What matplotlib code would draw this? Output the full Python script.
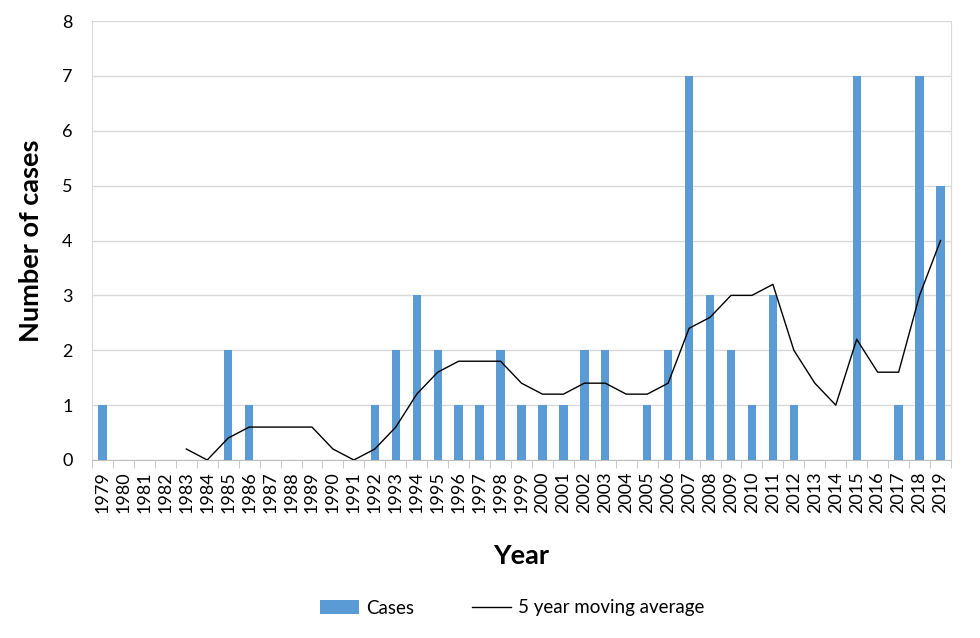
import numpy as np
import matplotlib.pyplot as plt

plt.rcParams['font.family'] = ['Lato', 'DejaVu Sans']

years = list(range(1979, 2020))
cases = [1, 0, 0, 0, 0, 0, 2, 1, 0, 0, 0, 0, 0, 1, 2, 3, 2, 1, 1, 2, 1,
         1, 1, 2, 2, 0, 1, 2, 7, 3, 2, 1, 3, 1, 0, 0, 7, 0, 1, 7, 5]
# 5 year moving average, shown from 1983 onwards
ma_years = list(range(1983, 2020))
moving_avg = [0.2, 0, 0.4, 0.6, 0.6, 0.6, 0.6, 0.2, 0, 0.2, 0.6, 1.2, 1.6, 1.8,
              1.8, 1.8, 1.4, 1.2, 1.2, 1.4, 1.4, 1.2, 1.2, 1.4, 2.4, 2.6, 3.0,
              3.0, 3.2, 2.0, 1.4, 1.0, 2.2, 1.6, 1.6, 3.0, 4.0]

fig = plt.figure(figsize=(9.8, 6.38), dpi=100)
ax = fig.add_axes([92 / 980, 1 - 460 / 638, (951 - 92) / 980, (460 - 21) / 638])

x = np.arange(len(years))
barras = ax.bar(x, cases, width=0.4, color='#5B9BD5', label='Cases', zorder=3)
ma_x = [years.index(y) for y in ma_years]
linea, = ax.plot(ma_x, moving_avg, color='black', linewidth=1,
                 label='5 year moving average', zorder=4)

ax.set_xlim(-0.5, len(years) - 0.5)
ax.set_ylim(0, 8)
ax.set_yticks(range(0, 9))
ax.set_xticks(x)
ax.set_xticklabels([str(y) for y in years], rotation=90)
ax.set_xticks(np.arange(-0.5, len(years)), minor=True)
ax.tick_params(axis='x', which='major', length=0, pad=8, labelsize=13)
ax.tick_params(axis='x', which='minor', length=6, color='#BFBFBF')
ax.tick_params(axis='y', length=0, pad=14, labelsize=13)

ax.grid(axis='y', color='#D9D9D9', linewidth=1, zorder=0)
for side in ['left', 'right']:
    ax.spines[side].set_color('#D9D9D9')
ax.spines['bottom'].set_color('#BFBFBF')
ax.spines['top'].set_visible(False)

ax.set_xlabel('Year', fontsize=19.5, fontweight='bold', labelpad=22)
ax.set_ylabel('Number of cases', fontsize=19.5, fontweight='bold', labelpad=14)

fig.legend([barras, linea], ['Cases', '5 year moving average'],
           loc='center', bbox_to_anchor=(512 / 980, 1 - 608 / 638), ncol=2, frameon=False,
           fontsize=13.5, handlelength=2.1, handletextpad=0.35, columnspacing=3.1)

fig.savefig('out.png', dpi=100)
